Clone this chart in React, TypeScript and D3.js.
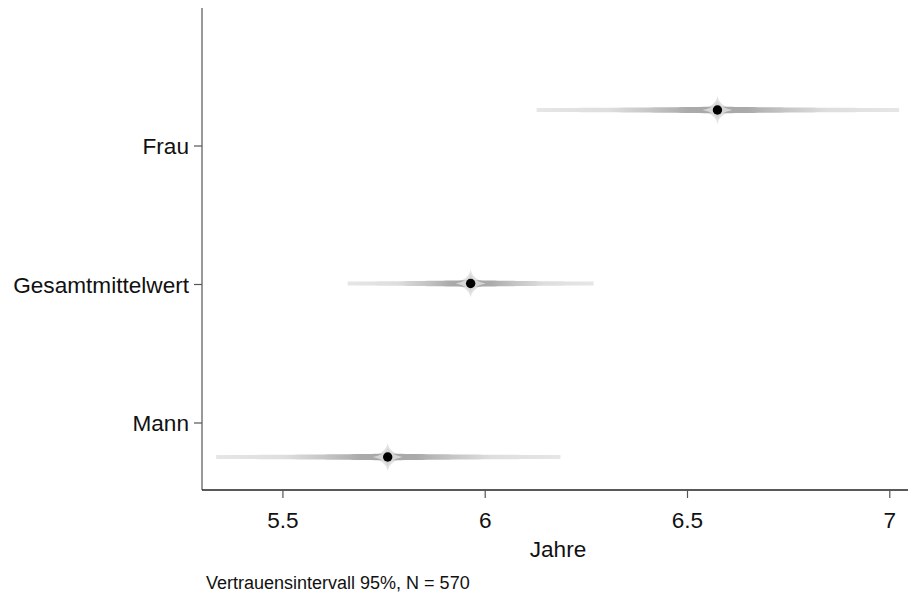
import React from "react";
import * as d3 from "d3";

// Mean and 95% confidence interval (years) per group
const categories = ["Frau", "Gesamtmittelwert", "Mann"];
const means = [6.574, 5.964, 5.759];
const lower = [6.127, 5.66, 5.335];
const upper = [7.023, 6.268, 6.186];
const xTicks = [5.5, 6, 6.5, 7];
const xTickLabels = ["5.5", "6", "6.5", "7"];

const W = 908;
const H = 596;
const FONT = "'Liberation Sans', Arial, Helvetica, sans-serif";

const x = d3.scaleLinear().domain([5.3, 7.045]).range([202, 908]);
const yLabel = d3.scalePoint<string>().domain(categories).range([146, 423]);
const yMark = d3.scalePoint<string>().domain(categories).range([110, 457]);
const plotTop = 8;
const plotBottom = 490;

// Tapered band around the mean: thicker near the centre, thin at the ends
function bandPath(x0: number, xm: number, x1: number, y: number) {
  const half = (x1 - x0) / 2;
  const n = 80;
  const top: [number, number][] = [];
  const bot: [number, number][] = [];
  for (let i = 0; i <= n; i++) {
    const px = x0 + ((x1 - x0) * i) / n;
    const d = Math.abs(px - xm) / half;
    const h = 2 + 1.3 * Math.pow(Math.max(0, 1 - d), 1.6);
    top.push([px, y - h]);
    bot.push([px, y + h]);
  }
  const line = d3.line();
  return line(top.concat(bot.reverse()))! + "Z";
}

// Four-pointed flare around the mean
function starPath(xm: number, y: number, rx: number, ry: number, k: number) {
  const p = d3.path();
  p.moveTo(xm - rx, y);
  p.quadraticCurveTo(xm - k, y - k, xm, y - ry);
  p.quadraticCurveTo(xm + k, y - k, xm + rx, y);
  p.quadraticCurveTo(xm + k, y + k, xm, y + ry);
  p.quadraticCurveTo(xm - k, y + k, xm - rx, y);
  p.closePath();
  return p.toString();
}

export default function App() {
  return (
    <svg width={W} height={H} style={{ display: "block", position: "absolute", left: 0, top: 0 }} fontFamily={FONT}>
      <defs>
        <linearGradient id="ciGrad" x1="0" x2="1" y1="0" y2="0">
          <stop offset="0" stopColor="#e6e6e6" />
          <stop offset="0.2" stopColor="#dedede" />
          <stop offset="0.33" stopColor="#c2c2c2" />
          <stop offset="0.42" stopColor="#aaaaaa" />
          <stop offset="0.5" stopColor="#a8a8a8" />
          <stop offset="0.58" stopColor="#aaaaaa" />
          <stop offset="0.67" stopColor="#c2c2c2" />
          <stop offset="0.8" stopColor="#dedede" />
          <stop offset="1" stopColor="#e6e6e6" />
        </linearGradient>
      </defs>
      <rect width={W} height={H} fill="#fff" />

      {categories.map((c, i) => {
        const y = yMark(c)!;
        const x0 = x(lower[i]);
        const x1 = x(upper[i]);
        const xm = x(means[i]);
        return (
          <g key={c}>
            <path d={starPath(xm, y, 22, 14, 2)} fill="#e2e2e2" />
            <path d={bandPath(x0, xm, x1, y)} fill="url(#ciGrad)" />
            <path d={starPath(xm, y, 15, 9, 2.5)} fill="#d6d6d6" />
            <circle cx={xm} cy={y} r={4.7} fill="#000" />
          </g>
        );
      })}

      {/* y axis */}
      <line x1={202} x2={202} y1={plotTop} y2={plotBottom} stroke="#555" strokeWidth={1.2} />
      {categories.map((c) => (
        <g key={c}>
          <line x1={194} x2={202} y1={yLabel(c)} y2={yLabel(c)} stroke="#555" strokeWidth={1.2} />
          <text x={189} y={yLabel(c)! + 8} textAnchor="end" fontSize={22.6} fill="#111">
            {c}
          </text>
        </g>
      ))}

      {/* x axis */}
      <line x1={202} x2={908} y1={plotBottom} y2={plotBottom} stroke="#222" strokeWidth={1.4} />
      {xTicks.map((t, i) => (
        <g key={t}>
          <line x1={x(t)} x2={x(t)} y1={plotBottom} y2={plotBottom + 8} stroke="#555" strokeWidth={1.2} />
          <text x={x(t)} y={528} textAnchor="middle" fontSize={22.6} fill="#111">
            {xTickLabels[i]}
          </text>
        </g>
      ))}
      <text x={558} y={557} textAnchor="middle" fontSize={22.6} fill="#111">
        Jahre
      </text>
      <text x={206} y={589} fontSize={18} fill="#111">
        Vertrauensintervall 95%, N = 570
      </text>
    </svg>
  );
}
